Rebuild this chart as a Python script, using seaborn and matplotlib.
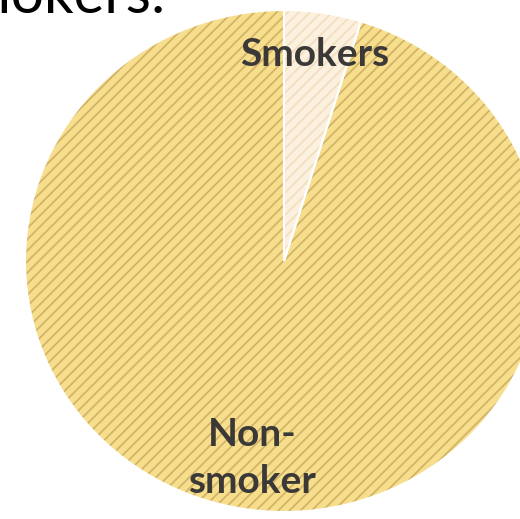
import matplotlib
matplotlib.use("Agg")
import matplotlib.pyplot as plt
import seaborn as sns

# Data
categories = ["Smokers", "Non-\nsmoker"]
shares = [4.8, 95.2]
title_text = "Smokers:"

sns.set_theme(style="white")
plt.rcParams["font.family"] = ["Lato", "DejaVu Sans"]
plt.rcParams["hatch.linewidth"] = 1.3

face_colors = ["#FCF1DE", "#F7DE8C"]
hatch_colors = ["#F2DFC0", "#D2B468"]

W, H = 520, 519
fig = plt.figure(figsize=(W / 100, H / 100), dpi=100)
ax = fig.add_axes([0, 0, 1, 1])

wedges, _ = ax.pie(shares, startangle=90, counterclock=False,
                   colors=face_colors, hatch=["///", "///"],
                   wedgeprops=dict(linewidth=0))
for w, hc in zip(wedges, hatch_colors):
    w.set_edgecolor(hc)
    w.set_linewidth(0)

# white separators
ax.pie(shares, startangle=90, counterclock=False,
       colors=["none", "none"],
       wedgeprops=dict(edgecolor="white", linewidth=1.5))

ax.set_aspect("auto")
cx, cy = 284, 519 - 261
a, b = 259, 251
ax.set_xlim(-cx / a, (W - cx) / a)
ax.set_ylim(-cy / b, (H - cy) / b)
ax.axis("off")

fig.text(315 / W, 1 - 55 / H, categories[0], ha="center", va="center",
         fontsize=28, fontweight="bold", color="#3B3838")
fig.text(252 / W, 1 - 458 / H, categories[1], ha="center", va="center",
         fontsize=28, fontweight="bold", color="#3B3838",
         linespacing=1.4, multialignment="center")

fig.text(165 / W, 1 - 13 / H, title_text, ha="right", va="baseline",
         fontsize=42, color="black")

fig.savefig("out.png", dpi=100)
